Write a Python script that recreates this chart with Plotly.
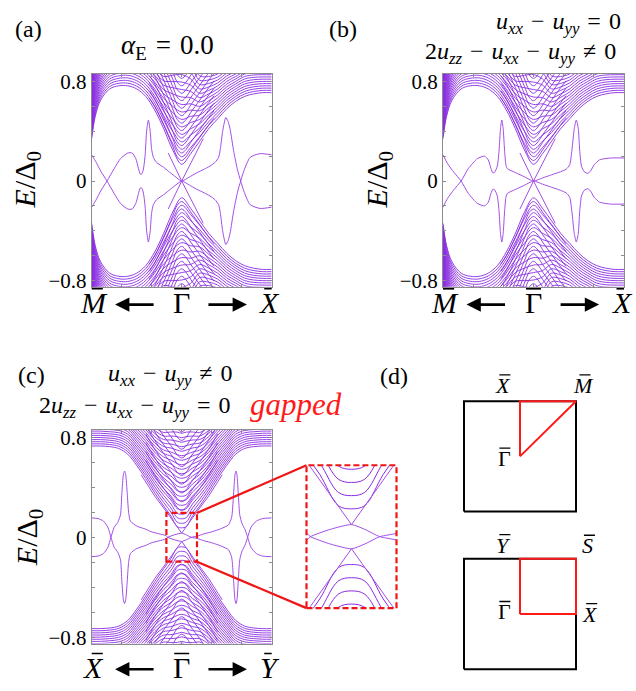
import plotly.graph_objects as go

W, H = 636, 691
SERIF = "Liberation Serif, DejaVu Serif, serif"
PURPLE = "#8a2be2"
PURPLE_S = "#a24ee6"
GREY = "#8c8c8c"
RED = "#f01414"

# ---------------- data ----------------
# k: position along the path (-1 = left end, 0 = Gamma, +1 = right end); E in units of Delta0.
# The spectra are particle-hole symmetric, so every band is also drawn at -E.

# panel (a) (and (b)): outer bulk continuum = lowest band edge + spacing between bands
ka_bulk = [-1.0, -0.96, -0.9, -0.8, -0.7, -0.6, -0.5, -0.4, -0.3, -0.2, -0.1, 0.0,
           0.1, 0.2, 0.3, 0.4, 0.5, 0.6, 0.7, 0.8, 0.9, 1.0]
ea_edge = [0.34, 0.52, 0.65, 0.74, 0.765, 0.765, 0.74, 0.68, 0.57, 0.42, 0.25, 0.135,
           0.22, 0.32, 0.42, 0.50, 0.58, 0.64, 0.68, 0.70, 0.71, 0.71]
ea_step = [0.02, 0.02, 0.02, 0.02, 0.02, 0.021, 0.022, 0.024, 0.028, 0.035, 0.05, 0.06,
           0.05, 0.035, 0.028, 0.024, 0.022, 0.02, 0.02, 0.019, 0.018, 0.018]
na_bulk = 26
# panel (a): inner bulk bands near Gamma (value at Gamma + rise of the arms)
ka_inner = [-0.36, -0.3, -0.2, -0.1, -0.05, 0.0, 0.05, 0.1, 0.2, 0.3, 0.36]
ea_inner_rise = [0.50, 0.435, 0.285, 0.115, 0.03, 0.0, 0.03, 0.085, 0.185, 0.285, 0.34]
ea_inner_levels = [0.165, 0.225, 0.285, 0.345, 0.405, 0.465, 0.525, 0.585, 0.645, 0.705, 0.765, 0.825]
# panel (a): in-gap surface band (its mirror -E is drawn too)
ka_surf = [-1.0, -0.95, -0.9, -0.83, -0.75, -0.68, -0.6, -0.55, -0.51, -0.48, -0.46, -0.44,
           -0.42, -0.405, -0.39, -0.37, -0.35, -0.335, -0.315, -0.28, -0.2, -0.15, -0.08, 0.0,
           0.08, 0.167, 0.25, 0.314, 0.37, 0.41, 0.43, 0.455, 0.49, 0.515, 0.537, 0.58, 0.62,
           0.655, 0.69, 0.76, 0.87, 1.0]
ea_surf = [-0.21, -0.15, -0.08, 0.0, 0.1, 0.18, 0.225, 0.225, 0.18, 0.1, 0.055, 0.06,
           0.12, 0.22, 0.40, 0.49, 0.40, 0.26, 0.19, 0.15, 0.11, 0.08, 0.04, 0.0,
           0.03, 0.066, 0.095, 0.12, 0.15, 0.19, 0.26, 0.40, 0.51, 0.48, 0.42, 0.23, 0.09,
           0.0, -0.08, -0.19, -0.22, -0.21]
# steep branches of the surface cone at Gamma (they run into the bulk edge)
k_cone = [-0.15, 0.0, 0.24]
e_cone = [0.225, 0.0, -0.34]

# panel (b): in-gap surface band (bulk reads the same as in (a))
kb_surf = [-1.0, -0.95, -0.88, -0.8, -0.72, -0.62, -0.54, -0.5, -0.47, -0.45, -0.43, -0.4,
           -0.38, -0.365, -0.35, -0.335, -0.32, -0.305, -0.29, -0.2, -0.1, 0.0,
           0.1, 0.2, 0.3, 0.36, 0.4, 0.425, 0.45, 0.473, 0.495, 0.51, 0.53, 0.56, 0.6,
           0.63, 0.67, 0.73, 0.85, 1.0]
eb_surf = [-0.21, -0.14, -0.07, 0.0, 0.1, 0.18, 0.2, 0.17, 0.1, 0.066, 0.07, 0.12,
           0.25, 0.42, 0.49, 0.42, 0.25, 0.13, 0.10, 0.068, 0.034, 0.0,
           0.025, 0.05, 0.075, 0.095, 0.13, 0.25, 0.42, 0.49, 0.42, 0.25, 0.12, 0.075, 0.062,
           0.08, 0.13, 0.17, 0.185, 0.185]

# panel (c): bulk continuum along X - Gamma - Y
kc_bulk = [-1.0, -0.9, -0.8, -0.7, -0.6, -0.5, -0.4, -0.3, -0.2, -0.12, -0.05, 0.0,
           0.05, 0.12, 0.2, 0.3, 0.4, 0.5, 0.6, 0.7, 0.8, 0.9, 1.0]
ec_edge = [0.73, 0.73, 0.725, 0.71, 0.665, 0.575, 0.47, 0.355, 0.25, 0.17, 0.085, 0.076,
           0.085, 0.17, 0.25, 0.355, 0.47, 0.575, 0.665, 0.71, 0.725, 0.73, 0.73]
ec_step = [0.017, 0.017, 0.017, 0.018, 0.02, 0.021, 0.023, 0.025, 0.028, 0.032, 0.036, 0.036,
           0.036, 0.032, 0.028, 0.025, 0.023, 0.021, 0.02, 0.018, 0.017, 0.017, 0.017]
nc_bulk = 30
kc_inner = [-0.4, -0.3, -0.2, -0.1, -0.05, 0.0, 0.05, 0.1, 0.2, 0.3, 0.4]
ec_inner_rise = [0.40, 0.28, 0.175, 0.08, 0.025, 0.0, 0.025, 0.08, 0.175, 0.28, 0.40]
ec_inner_levels = [0.215, 0.285, 0.355, 0.425, 0.495, 0.565, 0.635, 0.705, 0.775, 0.845]
# panel (c): gapped surface band
kc_surf = [-1.0, -0.93, -0.87, -0.82, -0.786, -0.75, -0.71, -0.68, -0.665, -0.648, -0.635,
           -0.622, -0.605, -0.59, -0.57, -0.5, -0.4, -0.34, -0.25, -0.175, -0.155, -0.08, 0.0,
           0.05, 0.107, 0.17, 0.25, 0.34, 0.44, 0.52, 0.555, 0.575, 0.592, 0.603, 0.614,
           0.63, 0.645, 0.67, 0.705, 0.733, 0.77, 0.83, 0.9, 1.0]
ec_surf = [0.155, 0.15, 0.13, 0.08, 0.0, -0.08, -0.12, -0.18, -0.35, -0.5, -0.53,
           -0.5, -0.35, -0.2, -0.13, -0.09, -0.065, -0.045, -0.028, -0.013, 0.0, 0.02, 0.033,
           0.02, 0.0, -0.009, -0.028, -0.045, -0.07, -0.1, -0.16, -0.33, -0.5, -0.53, -0.5,
           -0.33, -0.18, -0.11, -0.06, 0.0, 0.08, 0.13, 0.15, 0.155]
# panel (c): gapped cone (vertex at +0.033)
kc_vee = [-0.45, -0.3, -0.155, 0.0, 0.155, 0.3, 0.45]
ec_vee = [0.50, 0.33, 0.19, 0.033, 0.19, 0.33, 0.50]
# zoom window of the inset
zoom_k = 0.17
zoom_e = 0.195

# panel (d): surface Brillouin zones and the paths used
bz_x = [-1, 1, 1, -1, -1]
bz_y = [-1, -1, 1, 1, -1]
path1_x = [0, 0, 1, 0]
path1_y = [0, 1, 1, 0]
path2_x = [0, 0, 1, 1, 0]
path2_y = [0, 1, 1, 0, 0]

# ---------------- helpers ----------------
def px(x):
    return x / W


def py(y):
    return 1 - y / H


def family(k, base, step, n):
    xs, ys = [], []
    for i in range(n):
        xs += list(k) + [None]
        ys += [base[j] + i * step[j] for j in range(len(k))] + [None]
    return xs, ys


def levels_family(k, rise, levels):
    xs, ys = [], []
    for lv in levels:
        xs += list(k) + [None]
        ys += [lv + r for r in rise] + [None]
    return xs, ys


def mirror(ys):
    return [None if v is None else -v for v in ys]


fig = go.Figure()


def add_lines(xs, ys, ax, color, width, smooth=1.0, shape="spline"):
    fig.add_trace(go.Scatter(x=xs, y=ys, mode="lines", xaxis="x" + ax, yaxis="y" + ax,
                             line=dict(color=color, width=width, shape=shape, smoothing=smooth),
                             hoverinfo="skip", showlegend=False))


def add_panel(ax, kb, eb, sb, nb, ki, ri, li, ks, es, kv, ev, vshape, bw=0.9, sw=1.0):
    x1, y1 = family(kb, eb, sb, nb)
    x2, y2 = levels_family(ki, ri, li)
    for yy in (y1, mirror(y1)):
        add_lines(x1, yy, ax, PURPLE, bw)
    for yy in (y2, mirror(y2)):
        add_lines(x2, yy, ax, PURPLE, bw)
    add_lines(kv, ev, ax, PURPLE_S, sw, shape=vshape)
    add_lines(kv, [-v for v in ev], ax, PURPLE_S, sw, shape=vshape)
    add_lines(ks, es, ax, PURPLE_S, sw, smooth=0.6)
    add_lines(ks, [-v for v in es], ax, PURPLE_S, sw, smooth=0.6)


add_panel("", ka_bulk, ea_edge, ea_step, na_bulk, ka_inner, ea_inner_rise, ea_inner_levels,
          ka_surf, ea_surf, k_cone, e_cone, "linear")
add_panel("2", ka_bulk, ea_edge, ea_step, na_bulk, ka_inner, ea_inner_rise, ea_inner_levels,
          kb_surf, eb_surf, k_cone, e_cone, "linear")
add_panel("3", kc_bulk, ec_edge, ec_step, nc_bulk, kc_inner, ec_inner_rise, ec_inner_levels,
          kc_surf, ec_surf, kc_vee, ec_vee, "linear")
add_panel("4", kc_bulk, ec_edge, ec_step, nc_bulk, kc_inner, ec_inner_rise, ec_inner_levels,
          kc_surf, ec_surf, kc_vee, ec_vee, "linear", bw=1.0, sw=1.0)

# Brillouin zones
for ax, pxs, pys in (("5", path1_x, path1_y), ("6", path2_x, path2_y)):
    add_lines(bz_x, bz_y, ax, "black", 2, shape="linear")
    add_lines(pxs, pys, ax, "#ff1a1a", 2, shape="linear")

# ---------------- layout ----------------
A_X = [px(91.7), px(271.7)]
B_X = [px(443), px(624)]
TOP_Y = [py(287), py(71)]
C_Y = [py(649), py(432)]
IN_X = [px(306.5), px(396.5)]
IN_Y = [py(613), py(468)]
E_RANGE = [-0.85, 0.86]
yt = [-0.8, -0.6, -0.4, -0.2, 0, 0.2, 0.4, 0.6, 0.8]
ytt = ["\u22120.8", "", "", "", "0", "", "", "", "0.8"]


def xax(dom, anchor):
    return dict(domain=dom, range=[-1, 1], anchor=anchor, showline=True, linecolor=GREY,
                linewidth=1, mirror="ticks", ticks="inside", ticklen=3, tickcolor=GREY,
                tickvals=[-2 / 3, -1 / 3, 0, 1 / 3, 2 / 3], showticklabels=False,
                showgrid=False, zeroline=False, fixedrange=True)


def yax(dom, anchor):
    return dict(domain=dom, range=E_RANGE, anchor=anchor, showline=True, linecolor=GREY,
                linewidth=1, mirror="ticks", ticks="inside", ticklen=3, tickcolor=GREY,
                tickvals=yt, ticktext=ytt, tickfont=dict(family=SERIF, size=21, color="black"),
                showgrid=False, zeroline=False, fixedrange=True)


def hidden(dom, rng, anchor):
    return dict(domain=dom, range=rng, anchor=anchor, visible=False, fixedrange=True)


# BZ axes: 56 px per BZ unit, centres at (520,459) and (520,619)
S = 56.0
BZ_X = [px(520 - 1.6 * S), px(520 + 1.6 * S)]
BZ1_Y = [py(459 + 1.2 * S), py(459 - 1.6 * S)]
BZ2_Y = [py(619 + 1.2 * S), py(619 - 1.5 * S)]

fig.update_layout(
    width=W, height=H, margin=dict(l=0, r=0, t=0, b=0),
    paper_bgcolor="white", plot_bgcolor="rgba(0,0,0,0)", showlegend=False,
    font=dict(family=SERIF),
    xaxis=xax(A_X, "y"), yaxis=yax(TOP_Y, "x"),
    xaxis2=xax(B_X, "y2"), yaxis2=yax(TOP_Y, "x2"),
    xaxis3=xax(A_X, "y3"), yaxis3=yax(C_Y, "x3"),
    xaxis4=hidden(IN_X, [-zoom_k, zoom_k], "y4"), yaxis4=hidden(IN_Y, [-zoom_e, zoom_e], "x4"),
    xaxis5=hidden(BZ_X, [-1.6, 1.6], "y5"), yaxis5=hidden(BZ1_Y, [-1.2, 1.6], "x5"),
    xaxis6=hidden(BZ_X, [-1.6, 1.6], "y6"), yaxis6=hidden(BZ2_Y, [-1.2, 1.5], "x6"),
)

ann = []
shapes = []


def text(t, x, y, size, xref="paper", yref="paper", color="black", angle=0):
    ann.append(dict(text=t, x=x, y=y, xref=xref, yref=yref, showarrow=False,
                    font=dict(family=SERIF, size=size, color=color), xanchor="center",
                    yanchor="middle", textangle=angle))


def macron(xc, yc, width, xref="paper", yref="paper", lw=1.6):
    # short bar drawn over a symbol (x in axis units or paper, bar offsets in pixels)
    shapes.append(dict(type="line", xref=xref, yref=yref, xsizemode="pixel", ysizemode="pixel",
                       xanchor=xc, yanchor=yc, x0=-width / 2, x1=width / 2, y0=0, y1=0,
                       line=dict(color="black", width=lw)))


SP = "\u2004"
MINUS = SP + "\u2212" + SP
text("(a)", px(29), py(25), 24)
text("(b)", px(343), py(25), 24)
text("(c)", px(31), py(376), 24)
text("(d)", px(394), py(377), 24)
text("<i>\u03b1</i><sub>E</sub>" + SP + "=" + SP + "0.0", px(167), py(44), 27)
text("<i>u<sub>xx</sub></i>" + MINUS + "<i>u<sub>yy</sub></i>" + SP + "=" + SP + "0", px(558), py(19), 24)
text("2<i>u<sub>zz</sub></i>" + MINUS + "<i>u<sub>xx</sub></i>" + MINUS + "<i>u<sub>yy</sub></i>"
     + SP + "\u2260" + SP + "0", px(520), py(50), 24)
text("<i>u<sub>xx</sub></i>" + MINUS + "<i>u<sub>yy</sub></i>" + SP + "\u2260" + SP + "0", px(170), py(376), 24)
text("2<i>u<sub>zz</sub></i>" + MINUS + "<i>u<sub>xx</sub></i>" + MINUS + "<i>u<sub>yy</sub></i>"
     + SP + "=" + SP + "0", px(135), py(409), 24)
text("<i>gapped</i>", px(296), py(406), 31, color="#ff1a1a")
ylab = "<i>E</i>/\u0394<sub>0</sub>"
text(ylab, px(27), py(179), 30, angle=-90)
text(ylab, px(379), py(179), 30, angle=-90)
text(ylab, px(29), py(541), 30, angle=-90)

# path labels under the band panels
for ax, yl, labs in (("x", 303, ("<i>M</i>", "\u0393", "<i>X</i>")),
                     ("x2", 303, ("<i>M</i>", "\u0393", "<i>X</i>")),
                     ("x3", 673, ("<i>X</i>", "\u0393", "<i>Y</i>"))):
    for kk, lab in zip((-1, 0, 1), labs):
        xk = kk * 0.98
        text(lab, xk, py(yl), 30, xref=ax)
        macron(xk + (0 if kk == 0 else 0.02), py(yl - 14), 15, xref=ax)
    for head, tail in ((-0.74, 40), (0.725, -40)):
        ann.append(dict(text="", x=head, y=py(yl + 2), xref=ax, yref="paper", ax=tail, ay=0,
                        showarrow=True, arrowhead=2, arrowsize=1.1, arrowwidth=2.6,
                        arrowcolor="black"))

# BZ labels
for t, x, y, ax, upright in (("<i>X</i>", -0.30, 1.29, "5", 0), ("<i>M</i>", 1.13, 1.29, "5", 0),
                             ("\u0393", -0.27, -0.04, "5", 1),
                             ("<i>Y</i>", -0.30, 1.25, "6", 0), ("<i>S</i>", 1.21, 1.24, "6", 0),
                             ("\u0393", -0.27, 0.04, "6", 1), ("<i>X</i>", 1.25, 0.0, "6", 0)):
    text(t, x, y, 22, xref="x" + ax, yref="y" + ax)
    macron(x + (0 if upright else 0.03), y + 10.5 / S, 11, xref="x" + ax, yref="y" + ax, lw=1.3)

fig.update_layout(annotations=ann)

# zoom box, inset frame and connectors
def c_to_paper(k, e):
    xp = A_X[0] + (k + 1) / 2 * (A_X[1] - A_X[0])
    yp = C_Y[0] + (e - E_RANGE[0]) / (E_RANGE[1] - E_RANGE[0]) * (C_Y[1] - C_Y[0])
    return xp, yp


bx0, by0 = c_to_paper(-zoom_k, -zoom_e)
bx1, by1 = c_to_paper(zoom_k, zoom_e)
dash = "6px,3px"
shapes += [
    dict(type="rect", xref="paper", yref="paper", x0=bx0, y0=by0, x1=bx1, y1=by1,
         line=dict(color=RED, width=2.2, dash=dash)),
    dict(type="rect", xref="paper", yref="paper", x0=IN_X[0], y0=IN_Y[0], x1=IN_X[1], y1=IN_Y[1],
         line=dict(color=RED, width=2.2, dash=dash)),
    dict(type="line", xref="paper", yref="paper", x0=bx1, y0=by1, x1=IN_X[0], y1=IN_Y[1],
         line=dict(color=RED, width=2.2)),
    dict(type="line", xref="paper", yref="paper", x0=bx1, y0=by0, x1=IN_X[0], y1=IN_Y[0],
         line=dict(color=RED, width=2.2)),
]
fig.update_layout(shapes=shapes)

fig.write_html("out.html", config={"displayModeBar": False},
               post_script="document.body.style.margin='0px';document.body.style.overflow='hidden';")
